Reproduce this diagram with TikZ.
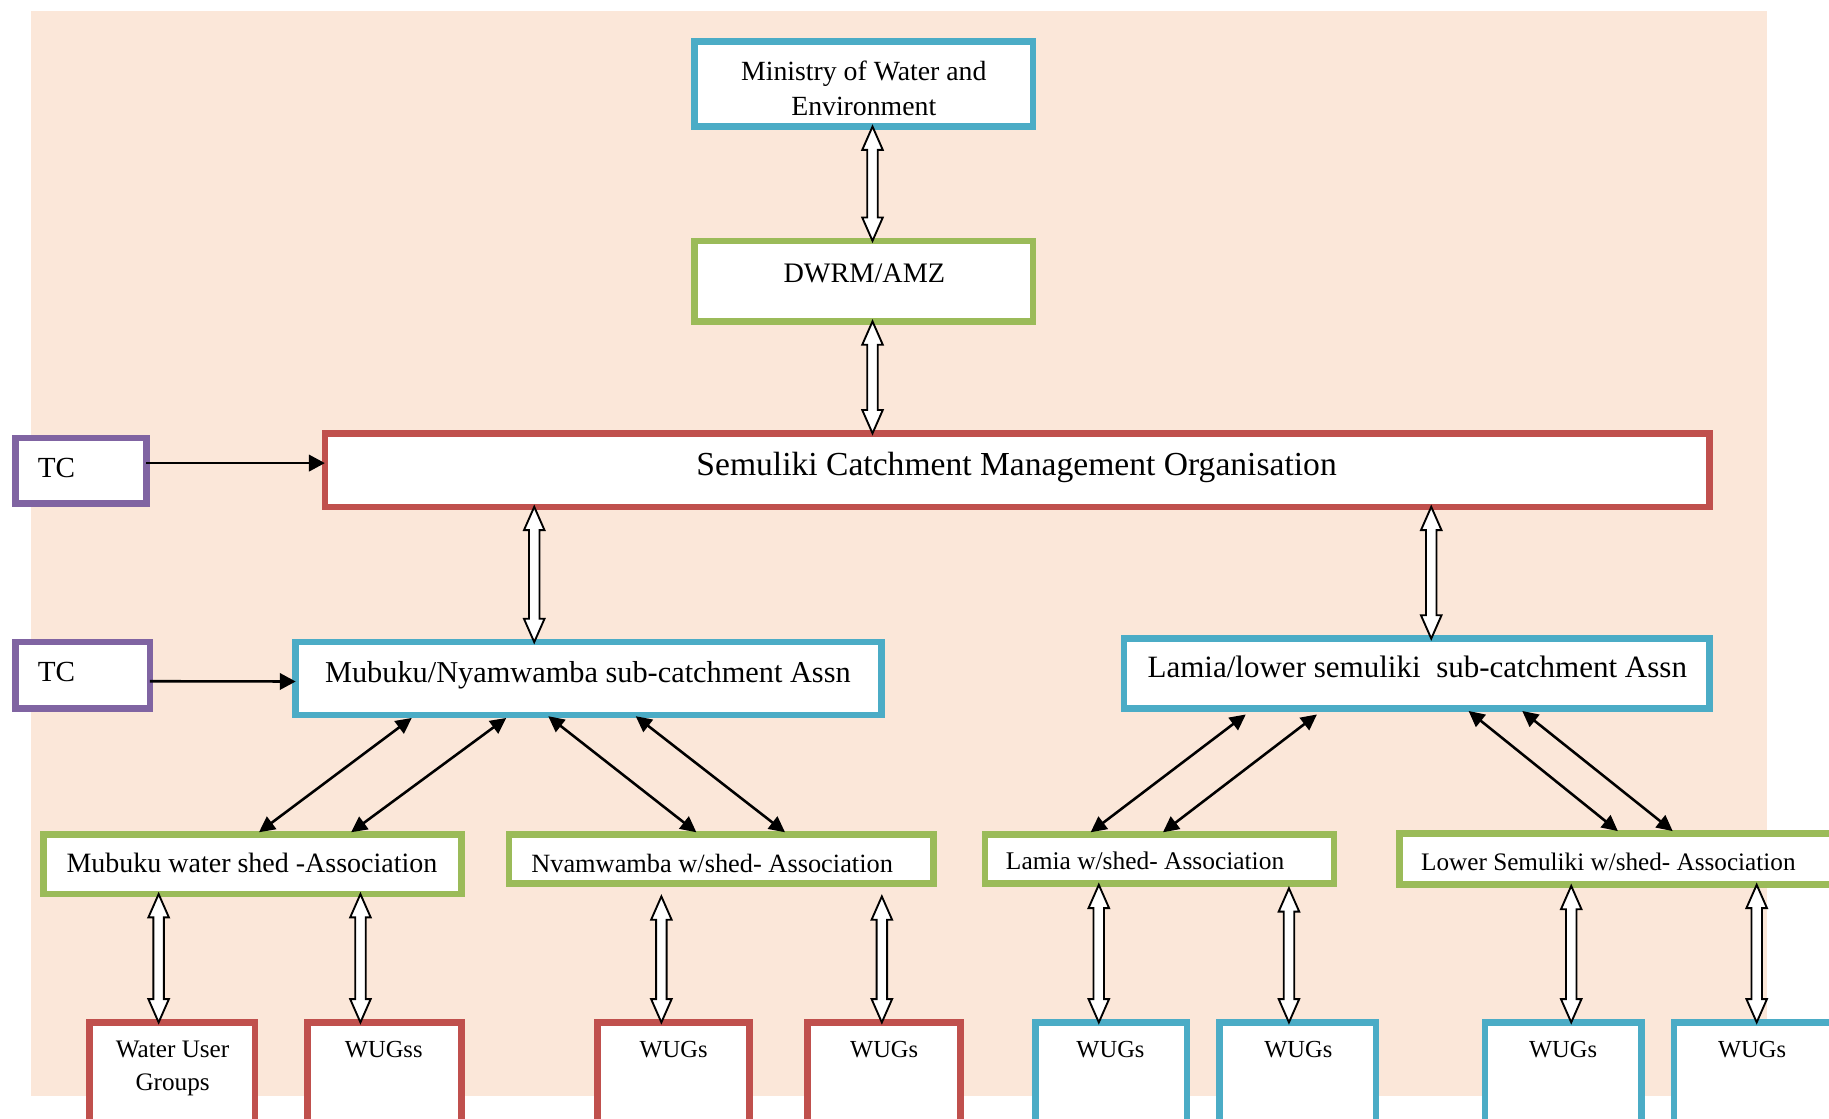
\documentclass[tikz,border=0pt]{standalone}
\usepackage{fontspec}
\setmainfont{Liberation Serif}
\usetikzlibrary{calc,arrows.meta}
\definecolor{bgpeach}{HTML}{FBE7D9}
\definecolor{cblue}{HTML}{4BACC6}
\definecolor{cgreen}{HTML}{9BBB59}
\definecolor{cred}{HTML}{C0504D}
\definecolor{cpurple}{HTML}{8064A2}
\newcommand\fsz[1]{\fontsize{#1}{#1}\selectfont}
\newcommand\harrow[2]{\draw[hollowarr] let \p1=#1, \p2=#2 in
  (\x1,\y1) -- (\x1+4.4pt,\y1-10pt) -- (\x1+2.25pt,\y1-10pt) -- (\x1+2.25pt,\y2+10pt)
  -- (\x1+4.4pt,\y2+10pt) -- (\x1,\y2) -- (\x1-4.4pt,\y2+10pt) -- (\x1-2.25pt,\y2+10pt)
  -- (\x1-2.25pt,\y1-10pt) -- (\x1-4.4pt,\y1-10pt) -- cycle;}
\tikzset{
  box/.style={draw=#1, line width=2.85pt, fill=white, rectangle, inner sep=0pt, outer sep=0pt},
  sz/.style 2 args={minimum width={#1*0.5pt}, minimum height={#2*0.5pt}},
  txt/.style={anchor=base, inner sep=0pt, font=\fsz{#1}},
  ltxt/.style={anchor=base west, inner sep=0pt, font=\fsz{#1}},
  hollowarr/.style={fill=white, draw=black, line width=0.8pt, line join=miter},
  biarr/.style={{Triangle[length=6.8pt,width=6.6pt]}-{Triangle[length=6.8pt,width=6.6pt]}, line width=1.1pt},
  onearr/.style={-{Triangle[length=6.8pt,width=7pt]}, line width=1.1pt}
}
\begin{document}
\begin{tikzpicture}[x=0.5pt,y=-0.5pt]
\useasboundingbox (0,0) rectangle (1568,959);
\fill[bgpeach] (27,9) rectangle (1515,940);

% boxes
\node[box=cblue, sz={290}{73}] (min) at (740.5,72) {};
\node[box=cgreen, sz={290}{69}] (dwrm) at (740.5,241) {};
\node[box=cred, sz={1187}{63}] (scmo) at (872,403) {};
\node[box=cpurple, sz={112}{56}] (tc1) at (69.5,403.5) {};
\node[box=cpurple, sz={115}{57}] (tc2) at (71,579) {};
\node[box=cblue, sz={502}{62.5}] (mubsub) at (504.5,581.75) {};
\node[box=cblue, sz={502}{60}] (lamsub) at (1214.5,577.5) {};
\node[box=cgreen, sz={358}{51}] (mubws) at (216.5,741) {};
\node[box=cgreen, sz={364}{42}] (nyamws) at (618.5,736.5) {};
\node[box=cgreen, sz={299}{42}] (lamws) at (994,736.5) {};
\node[box=cgreen, sz={378}{44}] (lowws) at (1388.5,736.5) {};
\node[box=cred, sz={142}{98}] (wug1) at (147.5,925.5) {};
\node[box=cred, sz={132}{98}] (wug2) at (329.5,925.5) {};
\node[box=cred, sz={130}{98}] (wug3) at (577.5,925.5) {};
\node[box=cred, sz={131}{98}] (wug4) at (758,925.5) {};
\node[box=cblue, sz={130}{98}] (wug5) at (952.5,925.5) {};
\node[box=cblue, sz={134}{98}] (wug6) at (1112.5,925.5) {};
\node[box=cblue, sz={134}{98}] (wug7) at (1340,925.5) {};
\node[box=cblue, sz={140}{98}] (wug8) at (1505,925.5) {};

% texts
\node[txt=11.9] (minT1) at (740.5,69) {Ministry of Water and};
\node[txt=11.9] (minT2) at (740.5,99) {Environment};
\node[txt=12.1] (dwrmT) at (741,242) {DWRM/AMZ};
\node[txt=14.4] (scmoT) at (871.5,408) {Semuliki Catchment Management Organisation};
\node[ltxt=12.5] (tc1T) at (32,409) {TC};
\node[ltxt=12.5] (tc2T) at (32,584) {TC};
\node[txt=13] (mubsubT) at (504,585) {Mubuku/Nyamwamba sub-catchment Assn};
\node[txt=13.3] (lamsubT) at (1215,581) {Lamia/lower semuliki\ \ sub-catchment Assn};
\node[txt=12] (mubwsT) at (216,748) {Mubuku water shed -Association};
\node[txt=11.3] (nyamwsT) at (610.5,748) {Nvamwamba w/shed- Association};
\node[ltxt=10.9] (lamwsT) at (862,745) {Lamia w/shed- Association};
\node[ltxt=10.8] (lowwsT) at (1218,746) {Lower Semuliki w/shed- Association};
\node[txt=10.8] (wug1T1) at (148,907) {Water User};
\node[txt=10.8] (wug1T2) at (148,935) {Groups};
\node[txt=10.5] (wug2T) at (329,907) {WUGss};
\node[txt=10.5] (wug3T) at (577.5,907) {WUGs};
\node[txt=10.5] (wug4T) at (758,907) {WUGs};
\node[txt=10.5] (wug5T) at (952,907) {WUGs};
\node[txt=10.5] (wug6T) at (1113,907) {WUGs};
\node[txt=10.5] (wug7T) at (1340,907) {WUGs};
\node[txt=10.5] (wug8T) at (1502,907) {WUGs};

% hollow double arrows
\harrow{($(min.south)+(7.5,0)$)}{($(dwrm.north)+(7.5,0)$)}
\harrow{($(dwrm.south)+(7.5,0)$)}{($(scmo.north west)+(469.5,0)$)}
\harrow{($(scmo.south west)+(179.5,0)$)}{($(mubsub.north west)+(204.5,0)$)}
\harrow{($(scmo.south west)+(948.5,0)$)}{($(lamsub.north west)+(263.5,0)$)}
\harrow{($(mubws.south west)+(98.5,0)$)}{($(wug1.north west)+(59.5,0)$)}
\harrow{($(mubws.south west)+(271.5,0)$)}{($(wug2.north west)+(45.5,0)$)}
\harrow{($(nyamws.south west)+(130.5,11)$)}{($(wug3.north west)+(54.5,0)$)}
\harrow{($(nyamws.south west)+(319.5,11)$)}{($(wug4.north west)+(63.5,0)$)}
\harrow{($(lamws.south west)+(97.5,1)$)}{($(wug5.north west)+(54.5,0)$)}
\harrow{($(lamws.south west)+(260.5,4)$)}{($(wug6.north west)+(59.5,0)$)}
\harrow{($(lowws.south west)+(147.5,1)$)}{($(wug7.north west)+(74.5,0)$)}
\harrow{($(lowws.south west)+(306.5,0)$)}{($(wug8.north west)+(68.5,0)$)}

% TC arrows
\draw[onearr] ($(tc1.east)+(0,-6.5)$) -- ($(scmo.west)+(0,-6)$);
\draw[onearr] ($(tc2.east)+(0,5)$) -- ($(mubsub.west)+(0,2.5)$);

% black double arrows
\draw[biarr] ($(mubsub.south west)+(99.5,2.5)$) -- ($(mubws.north west)+(184.5,-2)$);
\draw[biarr] ($(mubsub.south west)+(180.5,2.5)$) -- ($(mubws.north west)+(263.5,-2)$);
\draw[biarr] ($(mubsub.south west)+(216.5,1)$) -- ($(nyamws.north west)+(160.5,-2)$);
\draw[biarr] ($(mubsub.south west)+(291.5,1)$) -- ($(nyamws.north west)+(236.5,-2)$);
\draw[biarr] ($(lamsub.south west)+(104.5,5)$) -- ($(lamws.north west)+(90.5,-2)$);
\draw[biarr] ($(lamsub.south west)+(165.5,5)$) -- ($(lamws.north west)+(152.5,-2)$);
\draw[biarr] ($(lamsub.south west)+(295.5,2)$) -- ($(lowws.north west)+(187.5,-2)$);
\draw[biarr] ($(lamsub.south west)+(341.5,2)$) -- ($(lowws.north west)+(234.5,-2)$);
\end{tikzpicture}
\end{document}
